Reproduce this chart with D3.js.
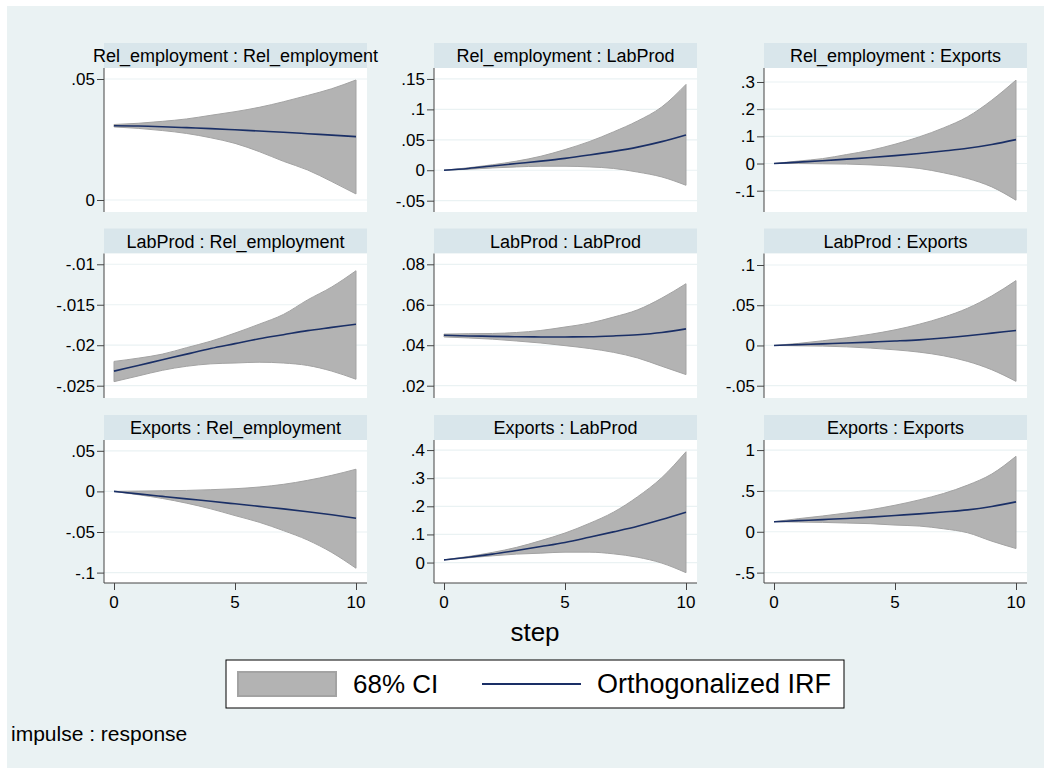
<!DOCTYPE html>
<html>
<head>
<meta charset="utf-8">
<script src="https://cdn.jsdelivr.net/npm/d3@7"></script>
<style>
  html, body { margin: 0; padding: 0; background: #ffffff; }
  svg { display: block; }
  text { font-family: "Liberation Sans", Arial, Helvetica, sans-serif; fill: #000; }
</style>
</head>
<body>
<svg id="chart" width="1050" height="774"></svg>
<script>
// ---------------- DATA ----------------
const steps = [0, 1, 2, 3, 4, 5, 6, 7, 8, 9, 10];

const panelTitles = [
  "Rel_employment : Rel_employment", "Rel_employment : LabProd", "Rel_employment : Exports",
  "LabProd : Rel_employment", "LabProd : LabProd", "LabProd : Exports",
  "Exports : Rel_employment", "Exports : LabProd", "Exports : Exports"
];

const irfValues = [
  [0.0307, 0.0306, 0.0303, 0.0299, 0.0295, 0.0290, 0.0285, 0.0280, 0.0274, 0.0268, 0.0262],
  [0, 0.003, 0.007, 0.011, 0.015, 0.0195, 0.025, 0.031, 0.038, 0.047, 0.058],
  [0, 0.005, 0.010, 0.016, 0.022, 0.029, 0.037, 0.046, 0.056, 0.070, 0.088],
  [-0.0232, -0.0225, -0.0218, -0.0211, -0.0204, -0.0198, -0.0192, -0.0187, -0.0182, -0.0178, -0.0174],
  [0.0449, 0.0446, 0.0444, 0.0442, 0.0441, 0.0441, 0.0442, 0.0446, 0.0452, 0.0463, 0.0481],
  [0, 0.001, 0.002, 0.003, 0.0042, 0.0055, 0.007, 0.0092, 0.012, 0.0153, 0.0186],
  [0, -0.003, -0.0061, -0.0092, -0.0122, -0.0153, -0.0184, -0.0215, -0.0250, -0.0288, -0.033],
  [0.0096, 0.019, 0.030, 0.043, 0.057, 0.0716, 0.090, 0.109, 0.129, 0.153, 0.179],
  [0.123, 0.136, 0.149, 0.163, 0.179, 0.199, 0.219, 0.242, 0.268, 0.310, 0.366]
];

const ciLower = [
  [0.0302, 0.0296, 0.0287, 0.0275, 0.0257, 0.0234, 0.0200, 0.0160, 0.0124, 0.0076, 0.0025],
  [0, 0.0016, 0.0038, 0.0055, 0.0066, 0.0066, 0.0055, 0.003, -0.003, -0.011, -0.0247],
  [0, 0, -0.001, -0.002, -0.005, -0.010, -0.018, -0.034, -0.055, -0.086, -0.135],
  [-0.0245, -0.0238, -0.0231, -0.0226, -0.0223, -0.0222, -0.0221, -0.0222, -0.0225, -0.0232, -0.0242],
  [0.0441, 0.0436, 0.0430, 0.0421, 0.0411, 0.0398, 0.0384, 0.0365, 0.0337, 0.0296, 0.0255],
  [0, -0.0004, -0.0008, -0.0017, -0.0033, -0.0054, -0.0083, -0.0128, -0.0198, -0.0302, -0.0446],
  [0, -0.0041, -0.0087, -0.0145, -0.0215, -0.0298, -0.038, -0.0483, -0.0599, -0.0752, -0.0946],
  [0.0096, 0.0167, 0.024, 0.030, 0.0334, 0.037, 0.037, 0.031, 0.019, -0.002, -0.036],
  [0.123, 0.119, 0.115, 0.107, 0.099, 0.082, 0.070, 0.037, -0.012, -0.115, -0.205]
];

const ciUpper = [
  [0.0312, 0.0317, 0.0325, 0.0335, 0.0350, 0.0365, 0.0383, 0.0406, 0.0432, 0.0460, 0.0496],
  [0, 0.004, 0.009, 0.015, 0.023, 0.034, 0.047, 0.063, 0.081, 0.104, 0.141],
  [0, 0.009, 0.018, 0.033, 0.049, 0.071, 0.098, 0.131, 0.172, 0.233, 0.307],
  [-0.0220, -0.0216, -0.0211, -0.0203, -0.0195, -0.0185, -0.0174, -0.0162, -0.0144, -0.0128, -0.0108],
  [0.0455, 0.0457, 0.0458, 0.0463, 0.0473, 0.0490, 0.0509, 0.0539, 0.0575, 0.0633, 0.0704],
  [0, 0.0025, 0.0058, 0.0095, 0.014, 0.0194, 0.0264, 0.0351, 0.0463, 0.0616, 0.0806],
  [0, 0.0004, 0.0008, 0.0012, 0.0021, 0.0033, 0.0054, 0.0087, 0.0136, 0.0198, 0.0273],
  [0.0096, 0.0215, 0.036, 0.054, 0.078, 0.105, 0.139, 0.179, 0.234, 0.302, 0.394],
  [0.123, 0.160, 0.193, 0.230, 0.271, 0.325, 0.390, 0.468, 0.571, 0.707, 0.924]
];

const yTickValues = [
  [0, 0.05],
  [-0.05, 0, 0.05, 0.1, 0.15],
  [-0.1, 0, 0.1, 0.2, 0.3],
  [-0.025, -0.02, -0.015, -0.01],
  [0.02, 0.04, 0.06, 0.08],
  [-0.05, 0, 0.05, 0.1],
  [-0.1, -0.05, 0, 0.05],
  [0, 0.1, 0.2, 0.3, 0.4],
  [-0.5, 0, 0.5, 1]
];
const yTickLabels = [
  ["0", ".05"],
  ["-.05", "0", ".05", ".1", ".15"],
  ["-.1", "0", ".1", ".2", ".3"],
  ["-.025", "-.02", "-.015", "-.01"],
  [".02", ".04", ".06", ".08"],
  ["-.05", "0", ".05", ".1"],
  ["-.1", "-.05", "0", ".05"],
  ["0", ".1", ".2", ".3", ".4"],
  ["-.5", "0", ".5", "1"]
];
const yDomains = [
  [-0.00496, 0.05455], [-0.0686, 0.168], [-0.1784, 0.3515],
  [-0.02652, -0.00867], [0.01392, 0.08534], [-0.0653, 0.1143],
  [-0.1128, 0.0633], [-0.0727, 0.4358], [-0.627, 1.1233]
];

const xTickValues = [0, 5, 10];
const xTickLabels = ["0", "5", "10"];
const xAxisTitle = "step";
const legendLabels = ["68% CI", "Orthogonalized IRF"];
const noteText = "impulse : response";

// ---------------- LAYOUT ----------------
const svg = d3.select("#chart");
const colLeft = [104, 434, 764];
const colW = 263;
const stripTop = [43, 228.5, 415];
const stripH = 25;
const plotBottom = [212, 398, 583];
const BG = "#eaf2f3", STRIP = "#d9e6eb", GRID = "#eaf2f3";
const CI_FILL = "#b3b3b3", CI_STROKE = "#a3a3a3", LINE = "#1a2f66", AXIS = "#444";

function stext(g, x, y, str, size, anchor) {
  return g.append("text")
    .attr("x", x).attr("y", y)
    .attr("text-anchor", anchor || "start")
    .style("font-size", size + "px")
    .text(str);
}

// Background
svg.append("rect").attr("x", 0).attr("y", 0).attr("width", 1050).attr("height", 774).attr("fill", "#fff");
svg.append("rect").attr("x", 7).attr("y", 6).attr("width", 1037).attr("height", 762).attr("fill", BG);

panelTitles.forEach((title, i) => {
  const r = Math.floor(i / 3), c = i % 3;
  const left = colLeft[c], right = left + colW;
  const top = stripTop[r] + stripH, bottom = plotBottom[r];
  const g = svg.append("g");

  const x = d3.scaleLinear().domain([0, 10]).range([left + 10, right - 11]);
  const y = d3.scaleLinear().domain(yDomains[i]).range([bottom, top]);

  // strip
  g.append("rect").attr("x", left).attr("y", stripTop[r]).attr("width", colW).attr("height", stripH).attr("fill", STRIP);
  stext(g, (left + right) / 2, stripTop[r] + 19, title, 18, "middle");

  // plot region
  g.append("rect").attr("x", left).attr("y", top).attr("width", colW).attr("height", bottom - top).attr("fill", "#fff");

  // gridlines
  g.selectAll(".grid").data(yTickValues[i]).enter().append("line")
    .attr("x1", left).attr("x2", right)
    .attr("y1", d => y(d)).attr("y2", d => y(d))
    .attr("stroke", GRID).attr("stroke-width", 1.2);

  // CI band
  const pts = steps.map((s, k) => ({ s, lo: ciLower[i][k], hi: ciUpper[i][k], v: irfValues[i][k] }));
  const area = d3.area().curve(d3.curveMonotoneX).x(d => x(d.s)).y0(d => y(d.lo)).y1(d => y(d.hi));
  g.append("path").datum(pts).attr("d", area)
    .attr("fill", CI_FILL).attr("stroke", CI_STROKE).attr("stroke-width", 1);

  // IRF line
  const line = d3.line().curve(d3.curveMonotoneX).x(d => x(d.s)).y(d => y(d.v));
  g.append("path").datum(pts).attr("d", line)
    .attr("fill", "none").attr("stroke", LINE).attr("stroke-width", 1.6);

  // y axis
  const yAxis = d3.axisLeft(y).tickValues(yTickValues[i]).tickSize(7).tickFormat("");
  const ya = g.append("g").attr("transform", `translate(${left},0)`).call(yAxis);
  ya.select(".domain").attr("stroke", AXIS).attr("d", `M0,${top}V${bottom}`);
  ya.selectAll(".tick line").attr("stroke", AXIS);
  yTickValues[i].forEach((v, k) => {
    stext(g, left - 9, y(v) + 6, yTickLabels[i][k], 17, "end");
  });

  // x axis (bottom row only)
  if (r === 2) {
    const xAxis = d3.axisBottom(x).tickValues(xTickValues).tickSize(7).tickFormat("");
    const xa = g.append("g").attr("transform", `translate(0,${bottom})`).call(xAxis);
    xa.select(".domain").attr("stroke", AXIS).attr("d", `M${left},0H${right}`);
    xa.selectAll(".tick line").attr("stroke", AXIS);
    xTickValues.forEach((v, k) => {
      stext(g, x(v), bottom + 25, xTickLabels[k], 17, "middle");
    });
  }
});

// x axis title
stext(svg, 535, 641, xAxisTitle, 26, "middle");

// legend
const lg = svg.append("g");
lg.append("rect").attr("x", 226).attr("y", 660).attr("width", 618).attr("height", 48)
  .attr("fill", "#fff").attr("stroke", "#000").attr("stroke-width", 1);
lg.append("rect").attr("x", 238).attr("y", 672).attr("width", 98).attr("height", 24)
  .attr("fill", CI_FILL).attr("stroke", CI_STROKE).attr("stroke-width", 2);
stext(lg, 353, 693, legendLabels[0], 26, "start");
lg.append("line").attr("x1", 482).attr("x2", 581).attr("y1", 684).attr("y2", 684)
  .attr("stroke", LINE).attr("stroke-width", 2);
stext(lg, 597, 693, legendLabels[1], 27, "start");

// note
stext(svg, 11, 741, noteText, 21, "start");
</script>
</body>
</html>
